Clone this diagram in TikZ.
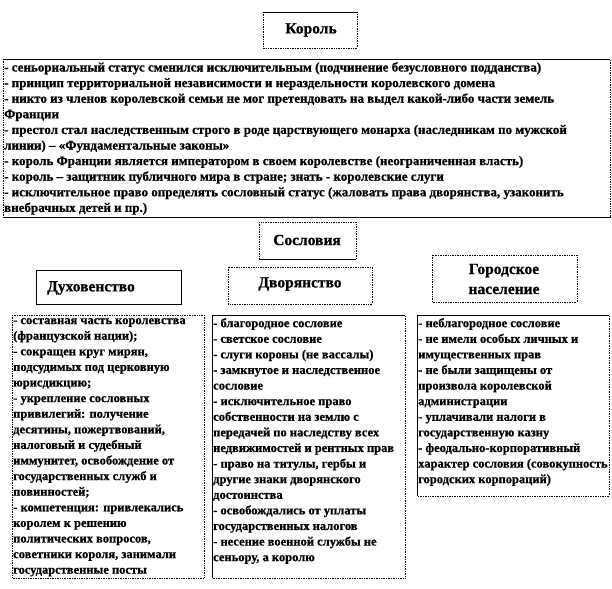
\documentclass[tikz,border=0pt]{standalone}
\usepackage{fontspec}
\setmainfont[BoldFeatures={FakeBold=0.8}]{Liberation Serif}
\usetikzlibrary{positioning}

\tikzset{
  dotbox/.style={draw=black, line width=0.7pt, densely dotted},
  solidbox/.style={draw=black, line width=0.7pt},
  headbox/.style={font=\fontsize{15.5}{19}\selectfont\bfseries, align=center, inner sep=0pt},
  listtext/.style={font=\fontsize{12.5}{15.6}\selectfont\bfseries, align=left, inner sep=0pt, anchor=north west},
}

\begin{document}
\begin{tikzpicture}[x=1pt,y=-1pt]
  \useasboundingbox (0,0) rectangle (612,588);

  % king
  \draw[dotbox] (263,12) rectangle (357,48);
  \draw[solidbox] (263,12) -- (357,12);
  \node[headbox] (king) at (311,30) {Король};

  % king's powers
  \draw[dotbox] (3,59) rectangle (610,217);
  \draw[solidbox] (3,59) -- (610,59);
  \draw[solidbox] (3,217) -- (610,217);
  \node[listtext, font=\fontsize{13}{15.6}\selectfont\bfseries] (kinglist) at (4,62) {%
    - сеньориальный статус сменился исключительным (подчинение безусловного подданства)\\
    - принцип территориальной независимости и нераздельности королевского домена\\
    - никто из членов королевской семьи не мог претендовать на выдел какой-либо части земель\\
    Франции\\
    - престол стал наследственным строго в роде царствующего монарха (наследникам по мужской\\
    линии) – «Фундаментальные законы»\\
    - король Франции является императором в своем королевстве (неограниченная власть)\\
    - король – защитник публичного мира в стране; знать - королевские слуги\\
    - исключительное право определять сословный статус (жаловать права дворянства, узаконить\\
    внебрачных детей и пр.)};

  % estates
  \draw[dotbox] (259,222) rectangle (356,259);
  \draw[solidbox] (259,259) -- (356,259);
  \node[headbox] (estates) at (307,240) {Сословия};

  \draw[solidbox] (36,270) rectangle (181,304);
  \node[headbox, anchor=west] (clergy) at (47,288) {Духовенство};

  \draw[dotbox] (228,267) rectangle (372,304);
  \node[headbox] (nobility) at (300,284) {Дворянство};

  \draw[dotbox] (432,255) rectangle (577,302);
  \node[headbox, font=\fontsize{15.5}{20}\selectfont\bfseries] (towns) at (504,279) {Городское\\население};

  % clergy
  \draw[dotbox] (12,315) rectangle (204,578);
  \node[listtext] (clergylist) at (13,318) {%
    - составная часть королевства\\
    (французской нации);\\
    - сокращен круг мирян,\\
    подсудимых под церковную\\
    юрисдикцию;\\
    - укрепление сословных\\
    привилегий: получение\\
    десятины, пожертвований,\\
    налоговый и судебный\\
    иммунитет, освобождение от\\
    государственных служб и\\
    повинностей;\\
    - компетенция: привлекались\\
    королем к решению\\
    политических вопросов,\\
    советники короля, занимали\\
    государственные посты};

  % nobility
  \draw[dotbox] (212,315) rectangle (405,578);
  \draw[solidbox] (405,315) -- (212,315) -- (212,578);
  \node[listtext] (nobilitylist) at (213,318) {%
    - благородное сословие\\
    - светское сословие\\
    - слуги короны (не вассалы)\\
    - замкнутое и наследственное\\
    сословие\\
    - исключительное право\\
    собственности на землю с\\
    передачей по наследству всех\\
    недвижимостей и рентных прав\\
    - право на титулы, гербы и\\
    другие знаки дворянского\\
    достоинства\\
    - освобождались от уплаты\\
    государственных налогов\\
    - несение военной службы не\\
    сеньору, а королю};

  % towns
  \draw[dotbox] (417,315) rectangle (609,496);
  \draw[solidbox] (609,315) -- (417,315) -- (417,496);
  \node[listtext] (townslist) at (418,318) {%
    - неблагородное сословие\\
    - не имели особых личных и\\
    имущественных прав\\
    - не были защищены от\\
    произвола королевской\\
    администрации\\
    - уплачивали налоги в\\
    государственную казну\\
    - феодально-корпоративный\\
    характер сословия (совокупность\\
    городских корпораций)};
\end{tikzpicture}
\end{document}
